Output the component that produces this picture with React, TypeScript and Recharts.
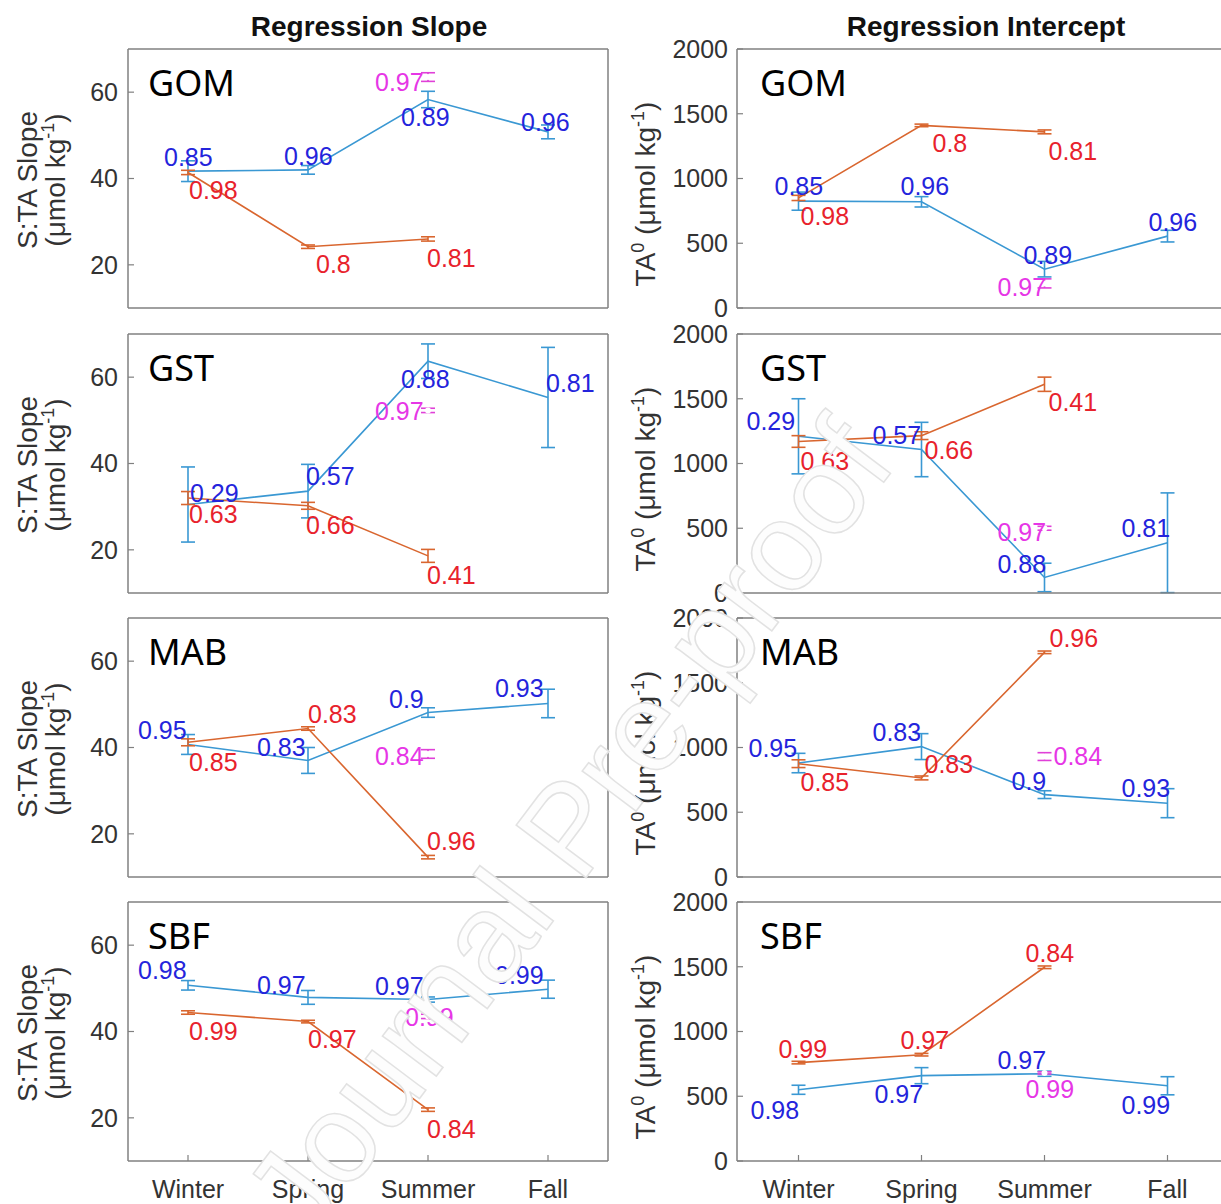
import React from 'react';
import { LineChart, Line, XAxis, YAxis, ErrorBar, LabelList } from 'recharts';

const seasons = ['Winter', 'Spring', 'Summer', 'Fall'];
const slopeTicks = [20, 40, 60];
const interceptTicks = [0, 500, 1000, 1500, 2000];

// GOM
const gomSlopeBlue = [41.7, 42.0, 58.3, 50.8];
const gomSlopeBlueErr = [2.4, 1.0, 1.9, 1.6];
const gomSlopeRed = [41.4, 24.2, 26.0];
const gomSlopeRedErr = [0.5, 0.4, 0.5];
const gomSlopeMag = 63.5;
const gomSlopeMagErr = 1.0;
const gomIntBlue = [825, 820, 300, 555];
const gomIntBlueErr = [70, 40, 60, 45];
const gomIntRed = [850, 1410, 1360];
const gomIntRedErr = [20, 10, 15];
const gomIntMag = 190;
const gomIntMagErr = 35;
const gomBlueR2 = ['0.85', '0.96', '0.89', '0.96'];
const gomRedR2 = ['0.98', '0.8', '0.81'];
const gomMagR2 = '0.97';

// GST
const gstSlopeBlue = [30.5, 33.6, 63.7, 55.3];
const gstSlopeBlueErr = [8.7, 6.2, 4.0, 11.6];
const gstSlopeRed = [32.0, 30.2, 18.6];
const gstSlopeRedErr = [1.5, 0.8, 1.5];
const gstSlopeMag = 52.3;
const gstSlopeMagErr = 0.5;
const gstIntBlue = [1210, 1108, 120, 388];
const gstIntBlueErr = [290, 210, 110, 385];
const gstIntRed = [1170, 1215, 1612];
const gstIntRedErr = [45, 30, 55];
const gstIntMag = 500;
const gstIntMagErr = 15;
const gstBlueR2 = ['0.29', '0.57', '0.88', '0.81'];
const gstRedR2 = ['0.63', '0.66', '0.41'];
const gstMagR2 = '0.97';

// MAB
const mabSlopeBlue = [40.7, 37.0, 48.1, 50.2];
const mabSlopeBlueErr = [2.3, 3.0, 1.1, 3.3];
const mabSlopeRed = [41.2, 44.4, 14.6];
const mabSlopeRedErr = [0.8, 0.4, 0.4];
const mabSlopeMag = 38.5;
const mabSlopeMagErr = 1.0;
const mabIntBlue = [880, 1007, 636, 570];
const mabIntBlueErr = [75, 100, 30, 112];
const mabIntRed = [875, 765, 1735];
const mabIntRedErr = [30, 15, 10];
const mabIntMag = 930;
const mabIntMagErr = 30;
const mabBlueR2 = ['0.95', '0.83', '0.9', '0.93'];
const mabRedR2 = ['0.85', '0.83', '0.96'];
const mabMagR2 = '0.84';

// SBF
const sbfSlopeBlue = [50.7, 47.9, 47.4, 49.8];
const sbfSlopeBlueErr = [1.1, 1.6, 0.6, 2.1];
const sbfSlopeRed = [44.4, 42.3, 21.9];
const sbfSlopeRedErr = [0.4, 0.3, 0.4];
const sbfSlopeMag = 43.5;
const sbfSlopeMagErr = 0.5;
const sbfIntBlue = [550, 659, 674, 581];
const sbfIntBlueErr = [35, 62, 20, 70];
const sbfIntRed = [760, 821, 1496];
const sbfIntRedErr = [10, 10, 10];
const sbfIntMag = 680;
const sbfIntMagErr = 8;
const sbfBlueR2 = ['0.98', '0.97', '0.97', '0.99'];
const sbfRedR2 = ['0.99', '0.97', '0.84'];
const sbfMagR2 = '0.99';

// label placement: [dx, dy] from the point to text start / baseline
type Off = number[][];
interface LabelPos { blue: Off; red: Off; mag: number[] }
const labelPos: Record<string, LabelPos> = {
  gomSlope: { blue: [[-24, -5], [-24, -5], [-27, 26], [-27, -1]], red: [[1, 27], [8, 26], [-1, 28]], mag: [-53, 14] },
  gomInt: { blue: [[-24, -6], [-21, -7], [-21, -5], [-19, -5]], red: [[2, 27], [11, 27], [4, 28]], mag: [-47, 13] },
  gstSlope: { blue: [[2, -3], [-2, -6], [-27, 27], [-2, -5]], red: [[1, 25], [-2, 28], [-1, 28]], mag: [-53, 10] },
  gstInt: { blue: [[-52, -6], [-49, -6], [-47, -4], [-46, -6]], red: [[2, 29], [3, 23], [4, 27]], mag: [-47, 13] },
  mabSlope: { blue: [[-50, -5], [-51, -4], [-39, -5], [-53, -6]], red: [[1, 29], [0, -6], [-1, -7]], mag: [-53, 11] },
  mabInt: { blue: [[-50, -6], [-49, -6], [-33, -5], [-46, -6]], red: [[2, 27], [3, -5], [5, -5]], mag: [9, 8] },
  sbfSlope: { blue: [[-50, -6], [-51, -3], [-53, -5], [-53, -5]], red: [[1, 27], [0, 26], [-1, 28]], mag: [-23, 10] },
  sbfInt: { blue: [[-48, 29], [-47, 27], [-47, -5], [-46, 28]], red: [[-20, -5], [-21, -6], [-19, -5]], mag: [-19, 25] },
};

const BLUE_LINE = '#3a98d3';
const RED_LINE = '#d9662f';
const MAG_BAR = '#e040d8';
const BLUE_TXT = '#2424dc';
const RED_TXT = '#e8222c';
const MAG_TXT = '#e636e6';
const AXIS = '#808080';
const FONT = '"Liberation Sans", Arial, sans-serif';

const ROW_TOPS = [49, 334, 618, 902];
const PLOT_H = 259;
const MT = 20;
const XH = 50;
const MR = 10;

const cols = {
  slope: { left: 0, yw: 128, plotW: 480, domain: [10, 70], ticks: slopeTicks, tickMargin: 16 },
  intercept: { left: 610, yw: 127, plotW: 492, domain: [0, 2000], ticks: interceptTicks, tickMargin: 15 },
};

const makeLabel = (offs: Off, color: string, texts: string[]) => (props: any) => {
  const vb = props.viewBox || {};
  const x = vb.x ?? props.x;
  const y = vb.y ?? props.y;
  const i = Number(props.value);
  const o = offs[i];
  if (x == null || y == null || !o) return null;
  return (
    <text x={x + o[0]} y={y + o[1]} fill={color} fontSize={25} fontFamily={FONT}>
      {texts[i]}
    </text>
  );
};

interface PanelProps {
  kind: 'slope' | 'intercept';
  row: number;
  blue: number[];
  blueErr: number[];
  blueR2: string[];
  red: number[];
  redErr: number[];
  redR2: string[];
  mag: number;
  magErr: number;
  magR2: string;
  pos: LabelPos;
}

function Panel(p: PanelProps) {
  const c = cols[p.kind];
  const width = c.yw + c.plotW + 1 + MR;
  const height = MT + 1 + PLOT_H + XH;
  const blueData = p.blue.map((v, i) => ({ x: i + 1, v, e: p.blueErr[i], k: String(i) }));
  const redData = p.red.map((v, i) => ({ x: i + 1, v, e: p.redErr[i], k: String(i) }));
  const magData = [{ x: 3, v: p.mag, e: p.magErr, k: '0' }];
  const last = p.row === 3;
  return (
    <div style={{ position: 'absolute', left: c.left, top: ROW_TOPS[p.row] - MT - 1 }}>
      <LineChart width={width} height={height} margin={{ top: MT, right: MR, bottom: 0, left: 0 }}>
        <XAxis
          xAxisId="b"
          type="number"
          dataKey="x"
          domain={[0.5, 4.5]}
          ticks={[1, 2, 3, 4]}
          interval={0}
          height={XH}
          tickFormatter={(v: number) => seasons[v - 1]}
          tickSize={-6}
          tickMargin={25}
          axisLine={{ stroke: AXIS, strokeWidth: 1.5 }}
          tickLine={{ stroke: AXIS, strokeWidth: 1.2 }}
          tick={last ? { fill: '#333', fontSize: 25, fontFamily: FONT } : false}
        />
        <XAxis
          xAxisId="t"
          orientation="top"
          type="number"
          domain={[0.5, 4.5]}
          ticks={[1, 2, 3, 4]}
          interval={0}
          height={1}
          tickSize={-6}
          axisLine={{ stroke: AXIS, strokeWidth: 1.5 }}
          tickLine={{ stroke: AXIS, strokeWidth: 1.2 }}
          tick={false}
        />
        <YAxis
          yAxisId="l"
          type="number"
          domain={c.domain}
          ticks={c.ticks}
          interval={0}
          width={c.yw}
          allowDataOverflow
          tickSize={-6}
          tickMargin={c.tickMargin}
          axisLine={{ stroke: AXIS, strokeWidth: 1.5 }}
          tickLine={{ stroke: AXIS, strokeWidth: 1.2 }}
          tick={{ fill: '#333', fontSize: 25, fontFamily: FONT }}
        />
        <YAxis
          yAxisId="r"
          orientation="right"
          type="number"
          domain={c.domain}
          ticks={c.ticks}
          interval={0}
          width={1}
          allowDataOverflow
          tickSize={-6}
          axisLine={{ stroke: AXIS, strokeWidth: 1.5 }}
          tickLine={{ stroke: AXIS, strokeWidth: 1.2 }}
          tick={false}
        />
        <Line
          xAxisId="b"
          yAxisId="l"
          data={blueData}
          dataKey="v"
          type="linear"
          stroke={BLUE_LINE}
          strokeWidth={1.6}
          dot={false}
          isAnimationActive={false}
        >
          <ErrorBar dataKey="e" direction="y" width={7} stroke={BLUE_LINE} strokeWidth={1.6} />
          <LabelList dataKey="k" content={makeLabel(p.pos.blue, BLUE_TXT, p.blueR2)} />
        </Line>
        <Line
          xAxisId="b"
          yAxisId="l"
          data={redData}
          dataKey="v"
          type="linear"
          stroke={RED_LINE}
          strokeWidth={1.6}
          dot={false}
          isAnimationActive={false}
        >
          <ErrorBar dataKey="e" direction="y" width={7} stroke={RED_LINE} strokeWidth={1.6} />
          <LabelList dataKey="k" content={makeLabel(p.pos.red, RED_TXT, p.redR2)} />
        </Line>
        <Line
          xAxisId="b"
          yAxisId="l"
          data={magData}
          dataKey="v"
          type="linear"
          stroke="none"
          dot={false}
          isAnimationActive={false}
        >
          <ErrorBar dataKey="e" direction="y" width={7} stroke={MAG_BAR} strokeWidth={1.6} />
          <LabelList dataKey="k" content={makeLabel([p.pos.mag], MAG_TXT, [p.magR2])} />
        </Line>
      </LineChart>
    </div>
  );
}

const regions = ['GOM', 'GST', 'MAB', 'SBF'];

function Overlay() {
  const sup = { fontSize: 18 };
  return (
    <svg width={1221} height={1204} style={{ position: 'absolute', left: 0, top: 0, pointerEvents: 'none' }}>
      <text x={369} y={36} textAnchor="middle" fontWeight="bold" fontSize={28} fontFamily={FONT} fill="#111">
        Regression Slope
      </text>
      <text x={986} y={36} textAnchor="middle" fontWeight="bold" fontSize={28} fontFamily={FONT} fill="#111">
        Regression Intercept
      </text>
      {ROW_TOPS.map((t, r) => {
        const cy = t + 131;
        const cy2 = t + 145;
        return (
          <g key={r} fontFamily={FONT} fill="#333" fontSize={28}>
            <text x={37} y={cy} textAnchor="middle" transform={`rotate(-90 37 ${cy})`}>
              S:TA Slope
            </text>
            <text x={65} y={cy} textAnchor="middle" transform={`rotate(-90 65 ${cy})`}>
              (μmol kg<tspan dy={-11} {...sup}>-1</tspan>
              <tspan dy={11}>)</tspan>
            </text>
            <text x={655} y={cy2} textAnchor="middle" transform={`rotate(-90 655 ${cy2})`}>
              TA<tspan dy={-11} {...sup}>0</tspan>
              <tspan dy={11}> (μmol kg</tspan>
              <tspan dy={-11} {...sup}>-1</tspan>
              <tspan dy={11}>)</tspan>
            </text>
            <text x={148} y={t + 47} fontFamily='"Noto Sans", sans-serif' fontSize={36} fill="#000">
              {regions[r]}
            </text>
            <text x={760} y={t + 47} fontFamily='"Noto Sans", sans-serif' fontSize={36} fill="#000">
              {regions[r]}
            </text>
          </g>
        );
      })}
      <text
        x={603}
        y={855}
        textAnchor="middle"
        transform="rotate(-53 603 855)"
        fontSize={127}
        fontFamily={FONT}
        fill="#fdfdfd"
        stroke="#e2e2e2"
        strokeWidth={1.5}
      >
        Journal Pre-proof
      </text>
    </svg>
  );
}

export default function App() {
  return (
    <div
      style={{
        position: 'absolute',
        left: 0,
        top: 0,
        width: 1221,
        height: 1204,
        overflow: 'hidden',
        background: '#fff',
      }}
    >
      <Panel kind="slope" row={0} blue={gomSlopeBlue} blueErr={gomSlopeBlueErr} blueR2={gomBlueR2} red={gomSlopeRed} redErr={gomSlopeRedErr} redR2={gomRedR2} mag={gomSlopeMag} magErr={gomSlopeMagErr} magR2={gomMagR2} pos={labelPos.gomSlope} />
      <Panel kind="intercept" row={0} blue={gomIntBlue} blueErr={gomIntBlueErr} blueR2={gomBlueR2} red={gomIntRed} redErr={gomIntRedErr} redR2={gomRedR2} mag={gomIntMag} magErr={gomIntMagErr} magR2={gomMagR2} pos={labelPos.gomInt} />
      <Panel kind="slope" row={1} blue={gstSlopeBlue} blueErr={gstSlopeBlueErr} blueR2={gstBlueR2} red={gstSlopeRed} redErr={gstSlopeRedErr} redR2={gstRedR2} mag={gstSlopeMag} magErr={gstSlopeMagErr} magR2={gstMagR2} pos={labelPos.gstSlope} />
      <Panel kind="intercept" row={1} blue={gstIntBlue} blueErr={gstIntBlueErr} blueR2={gstBlueR2} red={gstIntRed} redErr={gstIntRedErr} redR2={gstRedR2} mag={gstIntMag} magErr={gstIntMagErr} magR2={gstMagR2} pos={labelPos.gstInt} />
      <Panel kind="slope" row={2} blue={mabSlopeBlue} blueErr={mabSlopeBlueErr} blueR2={mabBlueR2} red={mabSlopeRed} redErr={mabSlopeRedErr} redR2={mabRedR2} mag={mabSlopeMag} magErr={mabSlopeMagErr} magR2={mabMagR2} pos={labelPos.mabSlope} />
      <Panel kind="intercept" row={2} blue={mabIntBlue} blueErr={mabIntBlueErr} blueR2={mabBlueR2} red={mabIntRed} redErr={mabIntRedErr} redR2={mabRedR2} mag={mabIntMag} magErr={mabIntMagErr} magR2={mabMagR2} pos={labelPos.mabInt} />
      <Panel kind="slope" row={3} blue={sbfSlopeBlue} blueErr={sbfSlopeBlueErr} blueR2={sbfBlueR2} red={sbfSlopeRed} redErr={sbfSlopeRedErr} redR2={sbfRedR2} mag={sbfSlopeMag} magErr={sbfSlopeMagErr} magR2={sbfMagR2} pos={labelPos.sbfSlope} />
      <Panel kind="intercept" row={3} blue={sbfIntBlue} blueErr={sbfIntBlueErr} blueR2={sbfBlueR2} red={sbfIntRed} redErr={sbfIntRedErr} redR2={sbfRedR2} mag={sbfIntMag} magErr={sbfIntMagErr} magR2={sbfMagR2} pos={labelPos.sbfInt} />
      <Overlay />
    </div>
  );
}
